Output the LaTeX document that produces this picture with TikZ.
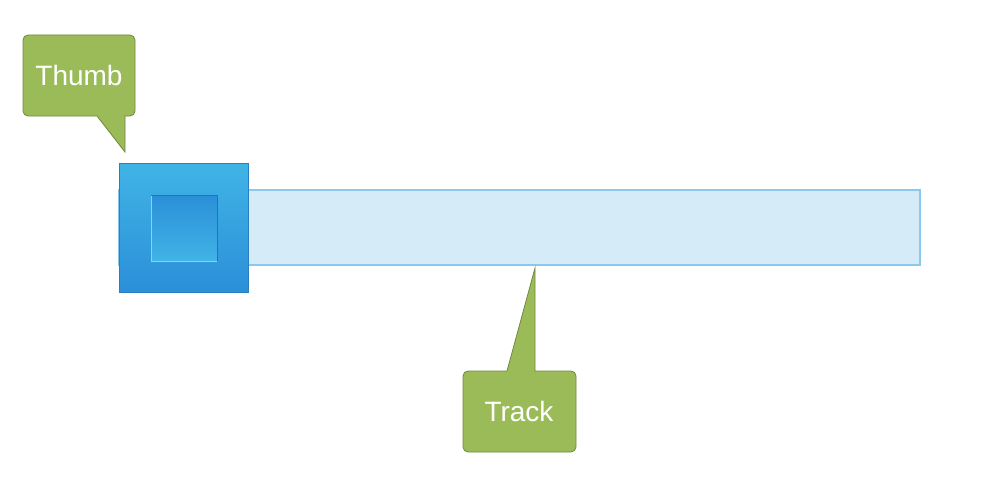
\documentclass[tikz,border=0pt]{standalone}
\usepackage{fontspec}
\setmainfont{Liberation Sans}
\begin{document}
\begin{tikzpicture}[x=1pt,y=-1pt,
  callout/.style={fill=calloutgreen,draw=calloutedge,line width=0.8pt,line join=miter},
  calltext/.style={text=white,font=\fontsize{28}{32}\selectfont,inner sep=0pt},
  trackbar/.style={fill=trackfill,draw=trackedge,line width=1.3pt},
  thumbouter/.style={top color=thumblight,bottom color=thumbdark,draw=thumbedge,line width=0.8pt},
  thumbinner/.style={top color=thumbdark,bottom color=thumblight}
]
\definecolor{calloutgreen}{HTML}{9BBB59}
\definecolor{calloutedge}{HTML}{71893F}
\definecolor{trackfill}{HTML}{D6EBF8}
\definecolor{trackedge}{HTML}{8CC8EE}
\definecolor{thumblight}{HTML}{40B4E6}
\definecolor{thumbdark}{HTML}{2B8FD8}
\definecolor{thumbedge}{HTML}{2A7FC0}
\definecolor{innerlight}{HTML}{8FD0F0}
\definecolor{innerdark}{HTML}{1F74B4}
\useasboundingbox (0,0) rectangle (982,495);
% track
\path[trackbar] (119,190) rectangle (920,265);
% thumb
\path[thumbouter] (119,163) rectangle (248,292);
\path[thumbinner] (151,195) rectangle (217,261);
\draw[innerlight,line width=0.8pt] (151,195) -- (151,261) -- (217,261);
\draw[innerdark,line width=0.8pt] (151,195) -- (217,195) -- (217,261);
\coordinate (thumbtip) at (125,152);
\coordinate (tracktip) at (535,268);
% thumb callout
\path[callout] (97,116) [rounded corners=5pt] -- (23,116) -- (23,35) -- (135,35) -- (135,116) [sharp corners] -- (125,116) -- (thumbtip) -- cycle;
\node[calltext] (thumblabel) at (79,75) {Thumb};
% track callout
\path[callout] (507,371) [rounded corners=5pt] -- (463,371) -- (463,452) -- (576,452) -- (576,371) [sharp corners] -- (535,371) -- (tracktip) -- cycle;
\node[calltext] (tracklabel) at (519,411) {Track};
\end{tikzpicture}
\end{document}
